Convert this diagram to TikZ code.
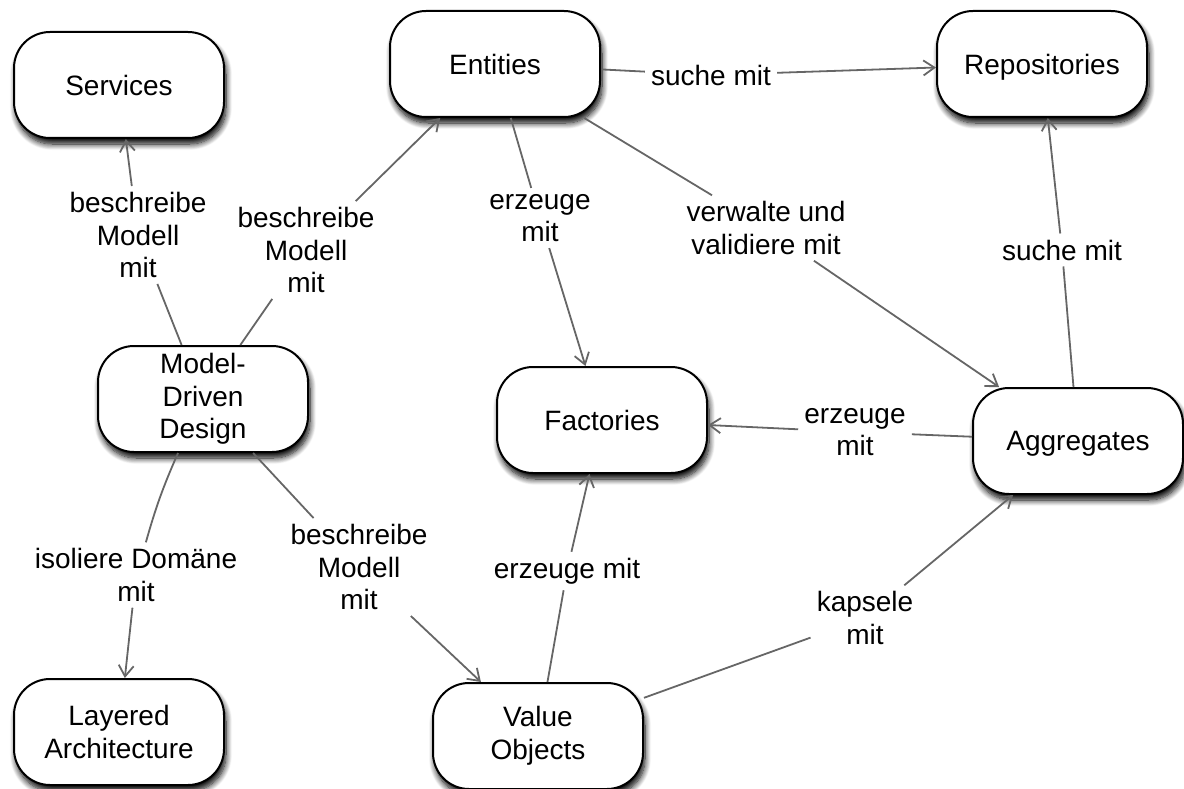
\documentclass[tikz,border=0pt]{standalone}
\usepackage{fontspec}
\setmainfont{Liberation Sans}
\usetikzlibrary{arrows.meta,shadows.blur}
\definecolor{linkgray}{HTML}{666666}
\begin{document}
\begin{tikzpicture}[x=1pt,y=-1pt,
  every node/.style={font=\fontsize{28}{32.5}\selectfont, text=black},
  concept/.style={draw=black, line width=2pt, fill=white, rounded corners=36pt,
    minimum width=210pt, minimum height=106pt, inner sep=0pt, align=center,
    blur shadow={shadow xshift=2pt, shadow yshift=-6pt, shadow blur radius=6pt,
      shadow blur steps=10, shadow opacity=100}},
  flat/.style={text depth=0pt},
  rel/.style={align=center, inner sep=6pt},
  link/.style={draw=linkgray, line width=1.8pt},
  arr/.style={link, -{Straight Barb[length=11pt,width=15pt,line width=1.8pt]}}]
\useasboundingbox (0,0) rectangle (1184,789);

% concepts
\node[concept] (services) at (119,85)  {Services};
\node[concept] (entities) at (495,64)  {Entities};
\node[concept, flat] (repos) at (1042,64) {Repositories};
\node[concept] (mdd)      at (203,399) {Model-\\Driven\\Design};
\node[concept] (factories) at (602,420) {Factories};
\node[concept, flat] (aggr) at (1078,441) {Aggregates};
\node[concept] (layered)  at (119,732) {Layered\\Architecture};
\node[concept] (values)   at (538,736) {Value\\Objects};

% relation labels
\node[rel] (l1)  at (138,235) {beschreibe\\Modell\\mit};
\node[rel] (l2)  at (306,250) {beschreibe\\Modell\\mit};
\node[rel] (l3)  at (711,75)  {suche mit};
\node[rel] (l4)  at (540,218) {erzeuge\\mit};
\node[rel] (l5)  at (766,228) {verwalte und\\validiere mit};
\node[rel] (l6)  at (1062,250) {suche mit};
\node[rel] (l7)  at (855,432) {erzeuge\\mit};
\node[rel] (l8)  at (136,575) {isoliere Domäne\\mit};
\node[rel] (l9)  at (359,567) {beschreibe\\Modell\\mit};
\node[rel] (l10) at (567,571) {erzeuge mit};
\node[rel] (l11) at (865,618) {kapsele\\mit};

% connectors
\draw[link] (mdd) -- (l1);      \draw[arr] (l1) -- (services);
\draw[link] (mdd) -- (l2);      \draw[arr] (l2) -- (entities);
\draw[link] (entities) -- (l3); \draw[arr] (l3) -- (repos);
\draw[link] (entities) -- (l4); \draw[arr] (l4) -- (factories);
\draw[link] (entities) -- (l5); \draw[arr] (l5) -- (aggr);
\draw[link] (aggr) -- (l6);     \draw[arr] (l6) -- (repos);
\draw[link] (aggr) -- (l7);     \draw[arr] (l7) -- (factories);
\draw[link] (mdd) to[bend right=4] (l8); \draw[arr] (l8) -- (layered);
\draw[link] (mdd) -- (l9);      \draw[arr] (l9) -- (values);
\draw[link] (values) -- (l10);  \draw[arr] (l10) -- (factories);
\draw[link] (values) -- (l11);  \draw[arr] (l11) -- (aggr);
\end{tikzpicture}
\end{document}
